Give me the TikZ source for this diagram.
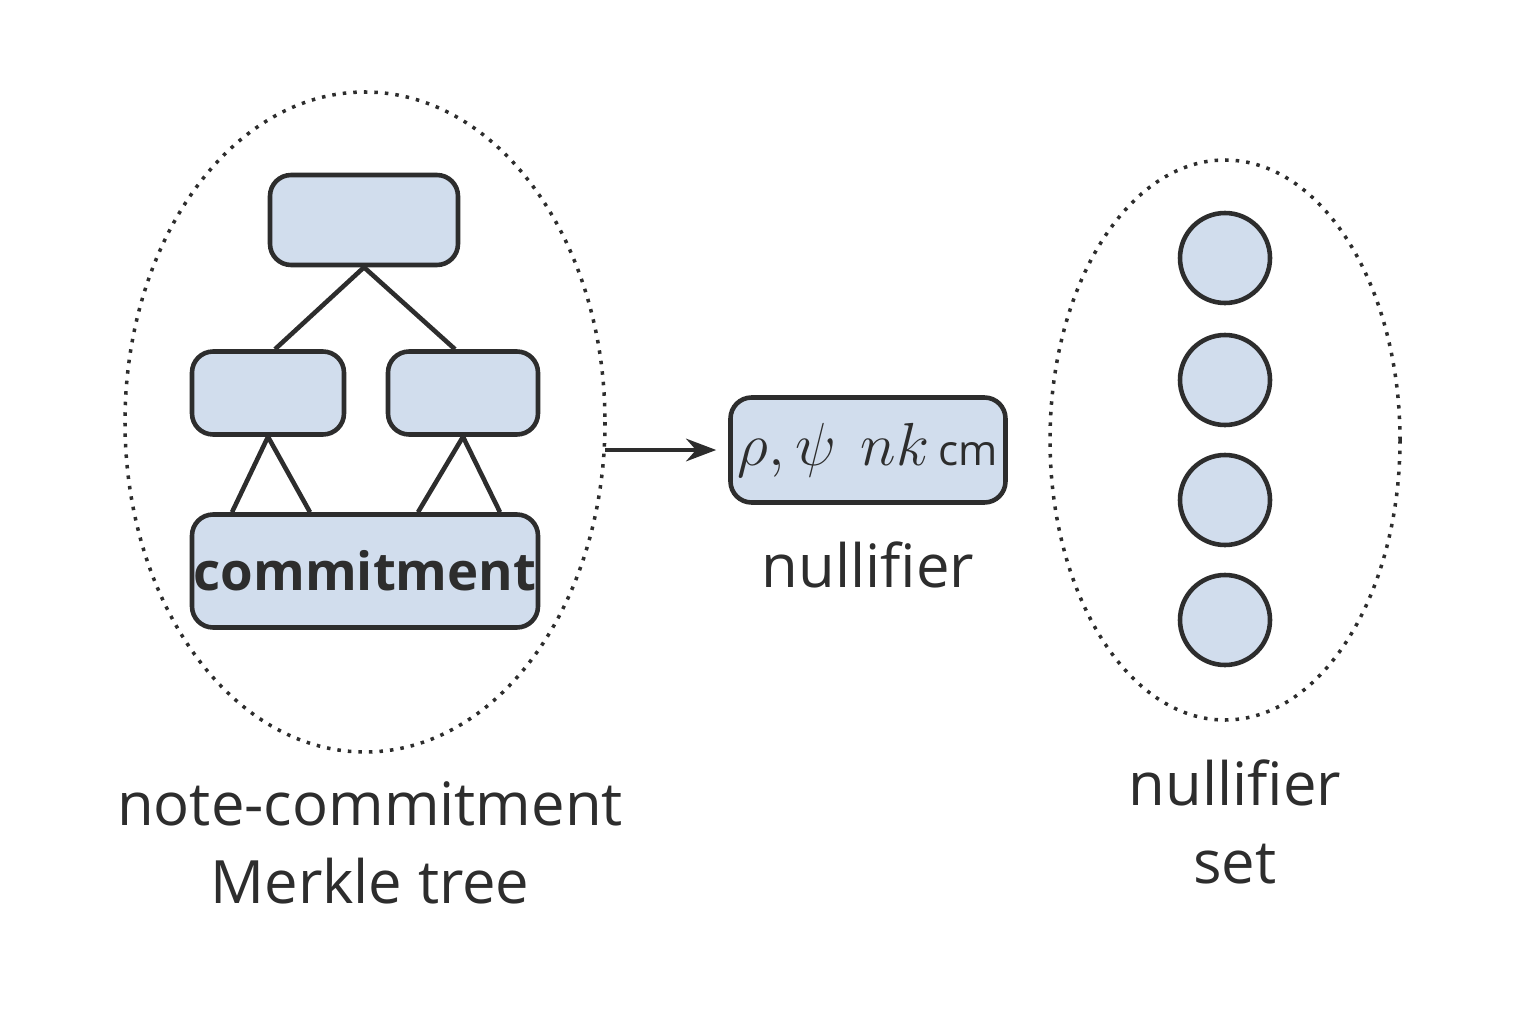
\documentclass[tikz,border=0pt]{standalone}
\usepackage{fontspec}
\setmainfont{Open Sans}
\usetikzlibrary{positioning}
\usetikzlibrary {arrows.meta}
\definecolor{boxfill}{RGB}{209,221,237}
\definecolor{ink}{RGB}{45,45,45}
\tikzset{treebox/.style={rectangle,rounded corners=6pt,draw=ink,fill=boxfill,
line width=1.3pt,inner sep=0pt}}
\tikzset{setdot/.style={circle,draw=ink,fill=boxfill,line width=1.3pt,
minimum size=90\pxu,inner sep=0pt}}
\tikzset{caption/.style={align=center,text=ink,font=\fontsize{17}{22}\selectfont}}
\tikzset{region/.style={draw=ink,line width=1pt,dotted}}
\newlength{\pxu}\setlength{\pxu}{0.01cm}

\begin{document}
\begin{tikzpicture}[x=0.01cm,y=-0.01cm]
    \useasboundingbox (0,0) rectangle (1536,1024);

    \draw[region] (365,422) ellipse [x radius=240, y radius=330];
    \draw[region] (1225,440) ellipse [x radius=175, y radius=280];

    \node[treebox,minimum width=188\pxu,minimum height=90\pxu] (root) at (364,220) {};
    \node[treebox,minimum width=152\pxu,minimum height=83\pxu] (midL) at (268,393) {};
    \node[treebox,minimum width=150\pxu,minimum height=83\pxu] (midR) at (463,393) {};
    \node[treebox,minimum width=346\pxu,minimum height=113\pxu,
      font=\fontsize{15}{18}\selectfont\bfseries,text=ink] (leaf) at (365,571) {commitment};

    \draw[ink,line width=1.3pt] (root.south) -- ([xshift=7\pxu]midL.north);
    \draw[ink,line width=1.3pt] (root.south) -- ([xshift=-8\pxu]midR.north);
    \draw[ink,line width=1.3pt] (midL.south) -- ([xshift=-133\pxu]leaf.north);
    \draw[ink,line width=1.3pt] (midL.south) -- ([xshift=-55\pxu]leaf.north);
    \draw[ink,line width=1.3pt] (midR.south) -- ([xshift=53\pxu]leaf.north);
    \draw[ink,line width=1.3pt] (midR.south) -- ([xshift=135\pxu]leaf.north);

    \node[treebox,minimum width=275\pxu,minimum height=105\pxu,text=ink,
      font=\fontsize{16}{18}\selectfont] (nf) at (868,450)
      {$\rho,\psi\ \, nk$\,{\fontsize{12}{14}\selectfont cm}};
    \coordinate (treeR) at (605,450);
    \draw[ink,line width=1.3pt,-{Stealth[length=3mm]}] (treeR) -- ([xshift=-12\pxu]nf.west);

    \node[caption] (nflabel) at (868,565) {nullifier};

    \foreach \y [count=\i] in {258,380,500,620}
        \node[setdot] (dot\i) at (1225,\y) {};

    \node[caption] (treelabel) at (370,843) {note-commitment\\Merkle tree};
    \node[caption] (setlabel) at (1235,822) {nullifier\\set};
\end{tikzpicture}
\end{document}
